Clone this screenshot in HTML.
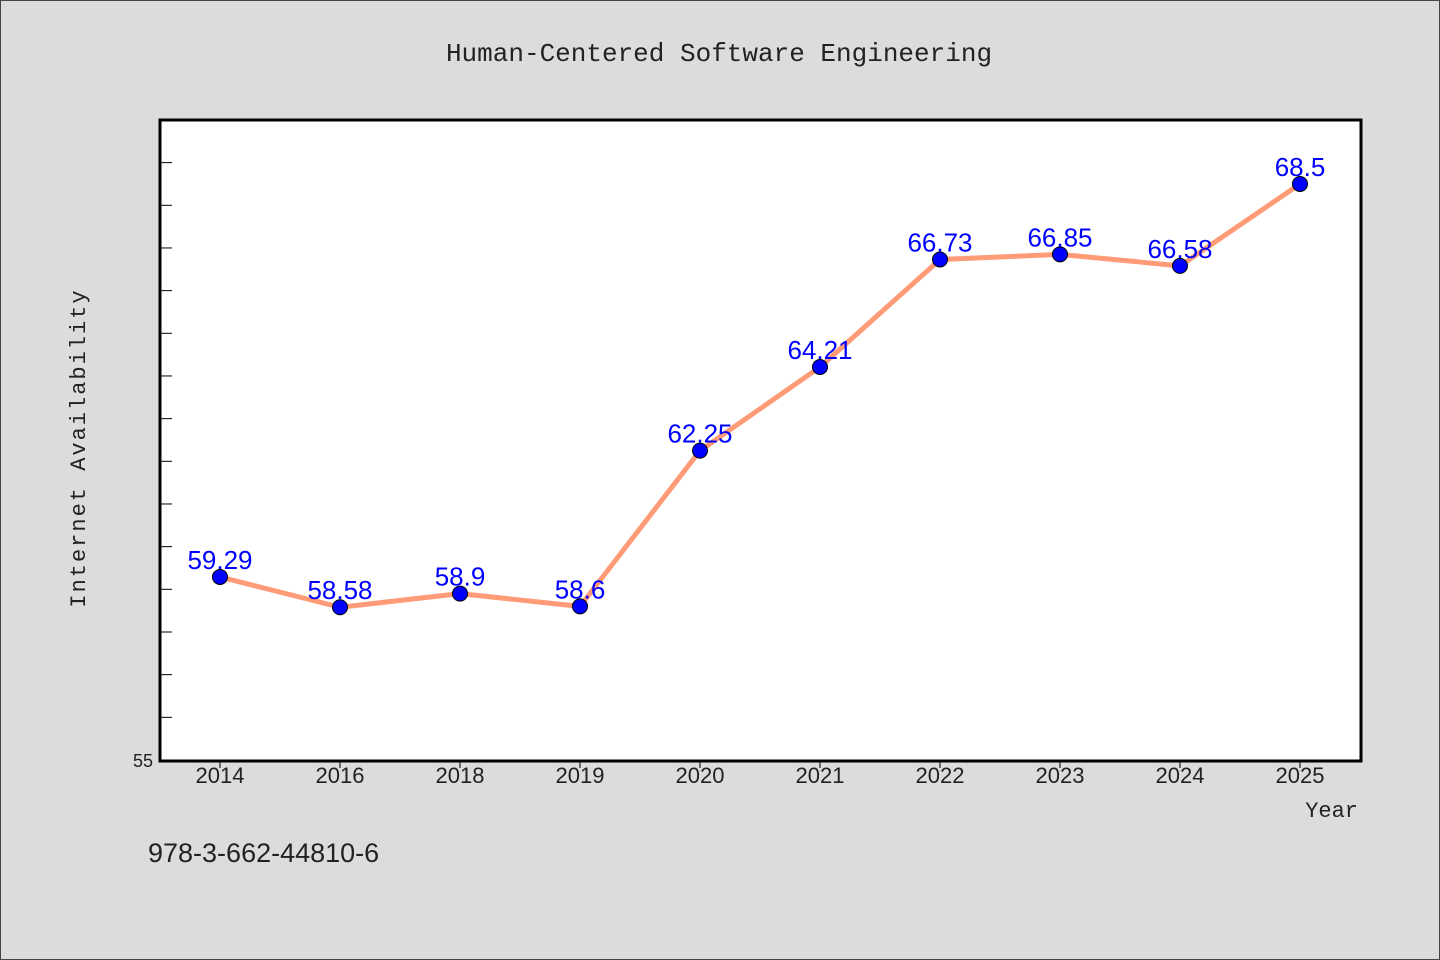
<!DOCTYPE html>
<html><head><meta charset="utf-8"><style>
html,body{margin:0;padding:0;background:#dcdcdc;}
svg{display:block;font-family:"Liberation Mono","DejaVu Sans Mono",monospace;}
</style></head><body>
<svg id="chart" width="1440" height="960" viewBox="0 0 1440 960">
<rect x="0.5" y="0.5" width="1439" height="959" fill="#dcdcdc" stroke="#444"/>
<text x="719" y="61" text-anchor="middle" font-size="26" fill="#222">Human-Centered Software Engineering</text>
<rect x="160" y="120" width="1201" height="641" fill="#fff" stroke="#000" stroke-width="3"/>
<text transform="translate(85,448) rotate(-90)" text-anchor="middle" font-size="22" fill="#222" letter-spacing="2">Internet Availability</text>
<text x="1358" y="817" text-anchor="end" font-size="22" fill="#222">Year</text>
<text x="148" y="862" font-size="27" fill="#222" font-family="Liberation Sans, sans-serif">978-3-662-44810-6</text>
<g id="ticks"></g>
<g id="series"></g>
</svg>
<script>
const categories = ["2014","2016","2018","2019","2020","2021","2022","2023","2024","2025"];
const values = [59.29,58.58,58.9,58.6,62.25,64.21,66.73,66.85,66.58,68.5];
const labels = ["59.29","58.58","58.9","58.6","62.25","64.21","66.73","66.85","66.58","68.5"];
const yTicks = [55,56,57,58,59,60,61,62,63,64,65,66,67,68,69];
const yTickLabels = ["55"];

const NS="http://www.w3.org/2000/svg";
const yMin=55, pxPerUnit=42.67, yBase=760;
function y(v){return yBase-(v-yMin)*pxPerUnit;}
function x(i){return 220+i*120;}
function mk(tag,attrs,parent){const e=document.createElementNS(NS,tag);for(const k in attrs)e.setAttribute(k,attrs[k]);parent.appendChild(e);return e;}
const tg=document.getElementById('ticks'), sg=document.getElementById('series');
yTicks.forEach((t,i)=>{
  const l=mk('line',{x1:161,x2:172,y1:y(t),y2:y(t),stroke:'#000','stroke-width':1},tg);
  
  
});
yTickLabels.forEach(s=>{
  const t=mk('text',{x:153,y:y(+s)+7,'text-anchor':'end','font-size':18,fill:'#222','font-family':'Liberation Sans, sans-serif'},tg);
  t.textContent=s;
  
  
});
categories.forEach((c,i)=>{
  const l=mk('line',{x1:x(i),x2:x(i),y1:761,y2:768,stroke:'#000','stroke-width':1},tg);
  
  
  const t=mk('text',{x:x(i),y:783,'text-anchor':'middle','font-size':22,fill:'#222','font-family':'Liberation Sans, sans-serif'},tg);
  t.textContent=c;
  
  
});
const line=mk('polyline',{points:values.map((v,i)=>x(i)+','+y(v)).join(' '),fill:'none',stroke:'#ff9b77','stroke-width':5,'stroke-linejoin':'round'},sg);


values.forEach((v,i)=>{
  const c=mk('circle',{cx:x(i),cy:y(v),r:7.5,fill:'#0000ff',stroke:'#000','stroke-width':1},sg);
  
  
});
values.forEach((v,i)=>{
  const t=mk('text',{x:x(i),y:y(v)-8,'text-anchor':'middle','font-size':26,fill:'#0000ff','font-family':'Liberation Sans, sans-serif'},sg);
  t.textContent=labels[i];
  
  
});
</script>
</body></html>
